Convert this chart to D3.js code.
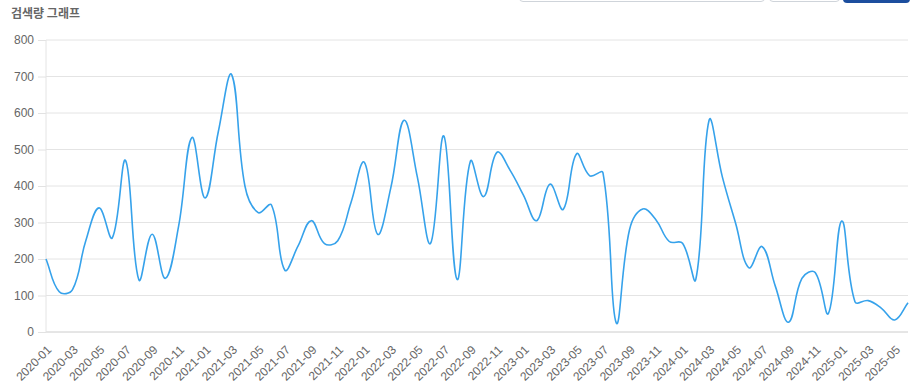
<!DOCTYPE html>
<html>
<head>
<meta charset="utf-8">
<script src="https://cdn.jsdelivr.net/npm/d3@7"></script>
<style>
  body { margin: 0; background: #fff; font-family: "Noto Sans CJK KR", "Noto Sans", sans-serif; }
  .wrap { position: relative; width: 922px; height: 392px; overflow: hidden; }
  .ctrl { position: absolute; top: -30px; height: 32px; box-sizing: border-box; border: 1px solid #cfd4da; border-radius: 4px; background: #fff; }
  .btn { position: absolute; top: -30px; height: 33px; border-radius: 4px; background: #1c4e9e; }
  .title { position: absolute; left: 11px; top: 4px; font-size: 12px; font-weight: bold; color: #666; }
  svg text { font-family: "Liberation Sans", Arial, sans-serif; }
</style>
</head>
<body>
<div class="wrap" id="chart">
  <div class="ctrl" style="left:519px;width:246px;"></div>
  <div class="ctrl" style="left:769px;width:71px;"></div>
  <div class="btn" style="left:843px;width:67px;"></div>
  <div class="title">검색량 그래프</div>
</div>
<script>
// months 2020-01 .. 2025-06
var months = [];
for (var yr = 2020; yr <= 2025; yr++) {
  for (var m = 1; m <= 12; m++) {
    if (yr === 2025 && m > 6) break;
    months.push(yr + "-" + (m < 10 ? "0" + m : m));
  }
}

// search volume per month
var volume = [
  200, 110, 116, 250, 340, 258, 470, 143, 268, 147, 290, 533,
  367, 550, 705, 400, 327, 348, 170, 235, 305, 242, 250, 355,
  465, 268, 395, 580, 425, 243, 537, 144, 468, 371, 492, 443,
  375, 305, 405, 336, 488, 428, 436, 25, 280, 337, 307, 248,
  243, 144, 580, 425, 298, 176, 234, 125, 27, 147, 163, 51,
  304, 83, 86, 65, 33, 80
];

var yTicks = [0, 100, 200, 300, 400, 500, 600, 700, 800];

var data = months.map(function(d, i) { return { month: d, value: volume[i] }; });

var margin = {top: 40, right: 14, bottom: 60, left: 46},
    width = 922 - margin.left - margin.right,
    height = 392 - margin.top - margin.bottom;

var svg = d3.select("#chart")
  .append("svg")
  .attr("width", 922)
  .attr("height", 392)
  .append("g")
  .attr("transform", "translate(" + margin.left + "," + margin.top + ")");

var x = d3.scalePoint()
  .domain(months)
  .range([0, width]);

var y = d3.scaleLinear()
  .domain([0, 800])
  .range([height, 0]);

// gridlines + y axis
var yAxis = svg.append("g")
  .call(d3.axisLeft(y).tickValues(yTicks).tickSize(8).tickPadding(4))
  .call(function(g) { g.select(".domain").remove(); });
yAxis.selectAll(".tick line").attr("stroke", "#e2e2e2");
yAxis.selectAll(".tick text").attr("fill", "#666").style("font-size", "12px");

svg.append("g")
  .selectAll("line")
  .data(yTicks)
  .enter()
  .append("line")
    .attr("x1", 0)
    .attr("x2", width)
    .attr("y1", function(d) { return y(d); })
    .attr("y2", function(d) { return y(d); })
    .attr("stroke", function(d) { return d === 0 ? "#cccccc" : "#e4e4e4"; })
    .attr("stroke-width", 1);

// vertical axis line
svg.append("line")
  .attr("x1", 0).attr("x2", 0)
  .attr("y1", 0).attr("y2", height)
  .attr("stroke", "#e4e4e4");

// x axis, every second month
var xAxis = svg.append("g")
  .attr("transform", "translate(0," + height + ")")
  .call(d3.axisBottom(x)
    .tickValues(months.filter(function(d, i) { return i % 2 === 0; }))
    .tickSize(0).tickPadding(7))
  .call(function(g) { g.select(".domain").remove(); });
xAxis.selectAll("text")
  .attr("fill", "#666")
  .style("font-size", "12px")
  .style("text-anchor", "end")
  .attr("dx", "-0.1em")
  .attr("dy", "0.55em")
  .attr("transform", "translate(-3,8) rotate(-45)");

// smooth line, control points weighted by segment length (tension 0.4)
function splinePath(pts, t) {
  var cps = pts.map(function(cur, i) {
    var prev = pts[i - 1] || cur, next = pts[i + 1] || cur;
    var d01 = Math.hypot(cur[0] - prev[0], cur[1] - prev[1]);
    var d12 = Math.hypot(next[0] - cur[0], next[1] - cur[1]);
    var s01 = d01 / (d01 + d12) || 0, s12 = d12 / (d01 + d12) || 0;
    var fa = t * s01, fb = t * s12;
    return {
      p: [cur[0] - fa * (next[0] - prev[0]), cur[1] - fa * (next[1] - prev[1])],
      n: [cur[0] + fb * (next[0] - prev[0]), cur[1] + fb * (next[1] - prev[1])]
    };
  });
  var path = d3.path();
  path.moveTo(pts[0][0], pts[0][1]);
  for (var i = 1; i < pts.length; i++) {
    path.bezierCurveTo(cps[i - 1].n[0], cps[i - 1].n[1], cps[i].p[0], cps[i].p[1], pts[i][0], pts[i][1]);
  }
  return path.toString();
}

var pts = data.map(function(d) { return [x(d.month), y(d.value)]; });

svg.append("path")
  .attr("fill", "none")
  .attr("stroke", "#36a2eb")
  .attr("stroke-width", 1.6)
  .attr("d", splinePath(pts, 0.4));
</script>
</body>
</html>
